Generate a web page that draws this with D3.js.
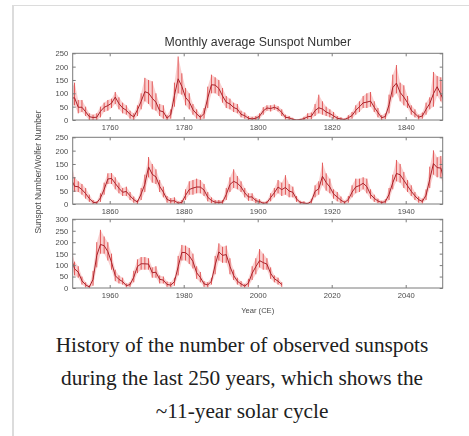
<!DOCTYPE html>
<html>
<head>
<meta charset="utf-8">
<script src="https://cdn.jsdelivr.net/npm/d3@7"></script>
<style>
  html, body { margin: 0; padding: 0; background: #fff; }
  svg { display: block; }
</style>
</head>
<body>
<svg id="chart" width="469" height="436"></svg>
<script>
// Sunspot record, one entry per calendar year starting at firstYear.
const firstYear = 1749;

// Yearly mean sunspot number
const annualMean = [
  80.9, 83.4, 47.7, 47.8, 30.7, 12.2, 9.6, 10.2, 32.4, 47.6,
  54.0, 62.9, 85.9, 61.2, 45.1, 36.4, 20.9, 11.4, 37.8, 69.8,
  106.1, 100.8, 81.6, 66.5, 34.8, 30.6, 7.0, 19.8, 92.5, 154.4,
  125.9, 84.8, 68.1, 38.5, 22.8, 10.2, 24.1, 82.9, 132.0, 130.9,
  118.1, 89.9, 66.6, 60.0, 46.9, 41.0, 21.3, 16.0, 6.4, 4.1,
  6.8, 14.5, 34.0, 45.0, 43.1, 47.5, 42.2, 28.1, 10.1, 8.1,
  2.5, 0.0, 1.4, 5.0, 12.2, 13.9, 35.4, 45.8, 41.1, 30.1,
  23.9, 15.6, 6.6, 4.0, 1.8, 8.5, 16.6, 36.3, 49.6, 64.2,
  67.0, 70.9, 47.8, 27.5, 8.5, 13.2, 56.9, 121.5, 138.3, 103.2,
  85.7, 64.6, 36.7, 24.2, 10.7, 15.0, 40.1, 61.5, 98.5, 124.7,
  96.3, 66.6, 64.5, 54.1, 39.0, 20.6, 6.7, 4.3, 22.7, 54.8,
  93.8, 95.8, 77.2, 59.1, 44.0, 47.0, 30.5, 16.3, 7.3, 37.6,
  74.0, 139.0, 111.2, 101.6, 66.2, 44.7, 17.0, 11.3, 12.4, 3.4,
  6.0, 32.3, 54.3, 59.7, 63.7, 63.5, 52.2, 25.4, 13.1, 6.8,
  6.3, 7.1, 35.6, 73.0, 85.1, 78.0, 64.0, 41.8, 26.2, 26.7,
  12.1, 9.5, 2.7, 5.0, 24.4, 42.0, 63.5, 53.8, 62.0, 48.5,
  43.9, 18.6, 5.7, 3.6, 1.4, 9.6, 47.4, 57.1, 103.9, 80.6,
  63.6, 37.6, 26.1, 14.2, 5.8, 16.7, 44.3, 63.9, 69.0, 77.8,
  64.9, 35.7, 21.2, 11.1, 5.7, 8.7, 36.1, 79.7, 114.4, 109.6,
  88.8, 67.8, 47.5, 30.6, 16.3, 9.6, 33.2, 92.6, 151.6, 136.3,
  134.7, 83.9, 69.4, 31.5, 13.9, 4.4, 38.0, 141.7, 190.2, 184.8,
  159.0, 112.3, 53.9, 37.6, 27.9, 10.2, 15.1, 47.0, 93.8, 105.9,
  105.5, 104.5, 66.6, 68.9, 38.0, 34.5, 15.5, 12.6, 27.5, 92.5,
  155.4, 154.6, 140.4, 115.9, 66.6, 45.9, 17.9, 13.4, 29.4, 100.2,
  157.6, 142.6, 145.7, 94.3, 54.6, 29.9, 17.5, 8.6, 21.5, 64.3,
  93.3, 119.6, 111.0, 104.0, 63.7, 40.4, 29.8, 15.2
];

// Highest monthly value within each year
const monthlyHigh = [
  110, 140, 75, 75, 50, 25, 20, 25, 50, 65,
  75, 80, 105, 85, 65, 55, 35, 25, 55, 100,
  158, 150, 145, 100, 60, 55, 18, 40, 140, 238,
  175, 120, 100, 60, 40, 20, 45, 125, 170, 160,
  150, 120, 90, 80, 65, 60, 35, 28, 15, 12,
  15, 25, 48, 55, 55, 58, 52, 40, 20, 15,
  8, 1, 5, 12, 25, 28, 60, 95, 70, 50,
  40, 30, 15, 10, 6, 18, 30, 55, 70, 90,
  100, 105, 70, 45, 18, 25, 95, 170, 206, 140,
  130, 90, 55, 40, 20, 28, 65, 85, 180, 165,
  160, 100, 85, 75, 60, 35, 15, 10, 40, 80,
  115, 116, 100, 80, 60, 65, 45, 28, 15, 60,
  110, 176, 150, 130, 90, 65, 30, 22, 25, 10,
  15, 55, 85, 90, 95, 90, 75, 45, 25, 15,
  15, 15, 60, 100, 130, 105, 85, 60, 40, 40,
  22, 18, 8, 12, 40, 60, 90, 80, 108, 75,
  65, 30, 12, 10, 5, 20, 70, 85, 155, 115,
  95, 55, 45, 28, 12, 30, 70, 95, 95, 100,
  95, 55, 35, 20, 12, 18, 60, 110, 165, 150,
  120, 90, 70, 45, 28, 20, 55, 140, 201, 175,
  180, 115, 95, 50, 25, 12, 75, 200, 254, 225,
  200, 150, 80, 55, 45, 20, 25, 75, 125, 135,
  135, 130, 90, 95, 55, 50, 28, 25, 45, 140,
  188, 185, 175, 150, 95, 70, 30, 25, 45, 140,
  195, 180, 185, 130, 80, 45, 30, 18, 40, 95,
  130, 170, 150, 130, 90, 55, 45, 25
];

// Lowest monthly value within each year
const monthlyLow = [
  55, 55, 25, 30, 15, 0, 0, 0, 10, 30,
  35, 45, 60, 40, 25, 20, 5, 0, 15, 40,
  70, 60, 40, 35, 15, 5, 0, 5, 50, 100,
  95, 55, 40, 20, 5, 0, 5, 45, 100, 100,
  90, 65, 45, 40, 30, 25, 10, 5, 0, 0,
  0, 5, 20, 35, 32, 38, 32, 15, 2, 0,
  0, 0, 0, 0, 3, 3, 15, 25, 20, 15,
  10, 5, 0, 0, 0, 0, 5, 20, 30, 45,
  45, 50, 30, 10, 0, 3, 25, 85, 100, 70,
  55, 45, 20, 10, 2, 5, 20, 40, 50, 90,
  70, 45, 45, 35, 20, 8, 0, 0, 8, 35,
  75, 75, 55, 40, 30, 30, 15, 5, 0, 15,
  45, 100, 80, 75, 45, 25, 5, 2, 2, 0,
  0, 15, 35, 35, 40, 40, 30, 10, 3, 0,
  0, 0, 15, 45, 60, 55, 45, 25, 12, 12,
  3, 2, 0, 0, 10, 25, 40, 30, 35, 25,
  25, 8, 0, 0, 0, 2, 25, 35, 70, 50,
  40, 20, 10, 3, 0, 5, 25, 40, 45, 55,
  40, 20, 8, 3, 0, 2, 15, 55, 85, 80,
  60, 45, 30, 15, 5, 2, 15, 60, 110, 100,
  100, 55, 45, 15, 3, 0, 10, 90, 150, 150,
  120, 80, 30, 20, 15, 3, 5, 25, 65, 80,
  80, 80, 45, 45, 20, 20, 5, 3, 10, 55,
  120, 120, 105, 85, 40, 25, 5, 3, 15, 60,
  120, 110, 110, 60, 35, 15, 5, 2, 5, 35,
  60, 90, 80, 80, 40, 25, 15, 5
];

// One strip per century
const panelStartYears = [1750, 1850, 1950];
const panelEndYears = [1850, 1950, 2050];
const panelYMax = [250, 250, 300];
const panelXTicks = [
  [1760, 1780, 1800, 1820, 1840],
  [1860, 1880, 1900, 1920, 1940],
  [1960, 1980, 2000, 2020, 2040]
];
const panelYTicks = [
  [0, 50, 100, 150, 200, 250],
  [0, 50, 100, 150, 200, 250],
  [0, 50, 100, 150, 200, 250, 300]
];

const titleText = "Monthly average Sunspot Number";
const xAxisLabel = "Year (CE)";
const yAxisLabel = "Sunspot Number/Wolfer Number";
const captionLines = [
  "History of the number of observed sunspots",
  "during the last 250 years, which shows the",
  "~11-year solar cycle"
];

// ---- layout ----
const W = 469, H = 436;
const plotLeft = 72.7, plotRight = 442.7;
const panelTops = [53.3, 137.3, 219.3];
const panelBottoms = [120, 204, 288];
const axisColor = "#7a7a7a";
const labelColor = "#4a4a4a";
const tickFont = "Liberation Sans, Arial, sans-serif";

const records = annualMean.map((m, i) => ({
  year: firstYear + i + 0.5,
  mean: m,
  hi: monthlyHigh[i],
  lo: monthlyLow[i]
}));

const svg = d3.select("#chart");
svg.append("rect").attr("width", W).attr("height", H).attr("fill", "#fff");

// thumbnail frame
svg.append("line").attr("x1", 13).attr("x2", 13).attr("y1", 5).attr("y2", H)
  .attr("stroke", "#dcdcdc").attr("stroke-width", 2);
svg.append("line").attr("x1", 13).attr("x2", W).attr("y1", 5.5).attr("y2", 5.5)
  .attr("stroke", "#dcdcdc").attr("stroke-width", 1);

const defs = svg.append("defs");
defs.append("filter").attr("id", "soft")
  .append("feGaussianBlur").attr("stdDeviation", 0.45);

const chart = svg.append("g").attr("filter", "url(#soft)");

chart.append("text")
  .attr("x", (plotLeft + plotRight) / 2).attr("y", 46)
  .attr("text-anchor", "middle")
  .attr("font-family", tickFont).attr("font-size", 12.3)
  .attr("fill", "#333")
  .text(titleText);

panelStartYears.forEach((start, p) => {
  const x = d3.scaleLinear().domain([start, panelEndYears[p]]).range([plotLeft, plotRight]);
  const y = d3.scaleLinear().domain([0, panelYMax[p]]).range([panelBottoms[p], panelTops[p]]);
  const g = chart.append("g");

  defs.append("clipPath").attr("id", "clip" + p)
    .append("rect")
    .attr("x", plotLeft).attr("y", panelTops[p])
    .attr("width", plotRight - plotLeft).attr("height", panelBottoms[p] - panelTops[p]);

  const rows = records.filter(d => d.year >= start - 1 && d.year <= panelEndYears[p] + 1);
  const plot = g.append("g").attr("clip-path", `url(#clip${p})`);

  // spread of the monthly values
  plot.append("path").datum(rows)
    .attr("d", d3.area().x(d => x(d.year)).y0(d => y(d.lo)).y1(d => y(d.hi)))
    .attr("fill", "#f6bcbc").attr("fill-opacity", 0.7);

  // yearly monthly range as thin strokes
  plot.selectAll("line.range").data(rows).join("line")
    .attr("class", "range")
    .attr("x1", d => x(d.year)).attr("x2", d => x(d.year))
    .attr("y1", d => y(d.lo)).attr("y2", d => y(d.hi))
    .attr("stroke", "#e04848").attr("stroke-width", 0.9);

  // yearly mean
  plot.append("path").datum(rows)
    .attr("d", d3.line().x(d => x(d.year)).y(d => y(d.mean)))
    .attr("fill", "none").attr("stroke", "#a8222a").attr("stroke-width", 1.0);

  // box
  g.append("rect")
    .attr("x", plotLeft).attr("y", panelTops[p])
    .attr("width", plotRight - plotLeft).attr("height", panelBottoms[p] - panelTops[p])
    .attr("fill", "none").attr("stroke", axisColor).attr("stroke-width", 1);

  const styleAxis = sel => {
    sel.select(".domain").remove();
    sel.selectAll(".tick line").attr("stroke", axisColor);
    sel.selectAll(".tick text").attr("fill", labelColor)
      .attr("font-family", tickFont).attr("font-size", 7.6);
  };

  g.append("g").attr("transform", `translate(0,${panelBottoms[p]})`)
    .call(d3.axisBottom(x).tickValues(panelXTicks[p]).tickFormat(d3.format("d"))
      .tickSizeInner(-3).tickSizeOuter(0).tickPadding(5))
    .call(styleAxis);
  g.append("g").attr("transform", `translate(0,${panelTops[p]})`)
    .call(d3.axisTop(x).tickValues(panelXTicks[p]).tickFormat("")
      .tickSizeInner(-3).tickSizeOuter(0))
    .call(styleAxis);
  g.append("g").attr("transform", `translate(${plotLeft},0)`)
    .call(d3.axisLeft(y).tickValues(panelYTicks[p]).tickFormat(d3.format("d"))
      .tickSizeInner(-3).tickSizeOuter(0).tickPadding(4.5))
    .call(styleAxis);
  g.append("g").attr("transform", `translate(${plotRight},0)`)
    .call(d3.axisRight(y).tickValues(panelYTicks[p]).tickFormat("")
      .tickSizeInner(-3).tickSizeOuter(0))
    .call(styleAxis);
});

chart.append("text")
  .attr("x", (plotLeft + plotRight) / 2).attr("y", 313)
  .attr("text-anchor", "middle")
  .attr("font-family", tickFont).attr("font-size", 7.6)
  .attr("fill", labelColor)
  .text(xAxisLabel);

chart.append("text")
  .attr("transform", "translate(41,172) rotate(-90)")
  .attr("text-anchor", "middle")
  .attr("font-family", tickFont).attr("font-size", 8.5)
  .attr("fill", labelColor)
  .text(yAxisLabel);

// caption under the figure
svg.append("g").selectAll("text").data(captionLines).join("text")
  .attr("x", 242).attr("y", (d, i) => 351.5 + i * 33)
  .attr("text-anchor", "middle")
  .attr("font-family", "Liberation Serif, Times New Roman, serif")
  .attr("font-size", 21.3)
  .attr("fill", "#202020")
  .text(d => d);
</script>
</body>
</html>
